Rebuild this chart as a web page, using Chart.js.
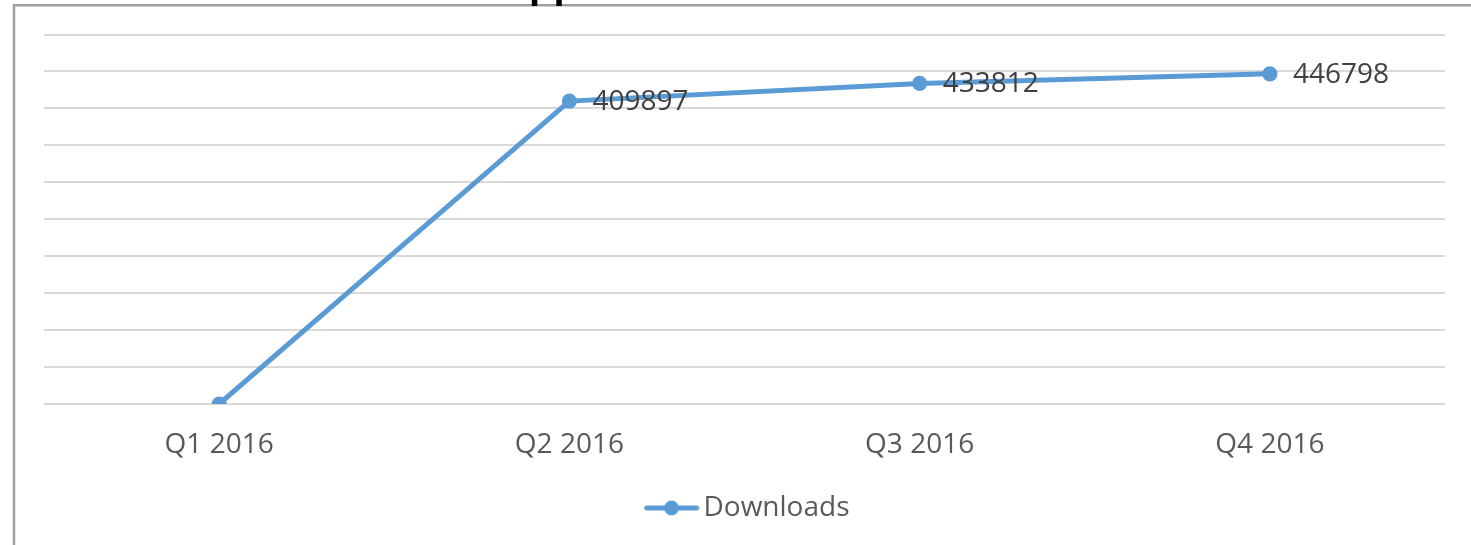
<!DOCTYPE html>
<html>
<head>
<meta charset="utf-8">
<script src="https://cdn.jsdelivr.net/npm/chart.js@4.4.1/dist/chart.umd.min.js"></script>
<style>
  html, body { margin: 0; padding: 0; background: #ffffff; overflow: hidden; }
  #wrap { position: absolute; left: 0; top: 0; width: 1471px; height: 545px; }
</style>
</head>
<body>
<div id="wrap"><canvas id="c" width="1471" height="545"></canvas></div>
<script>
// ---- data ----
const categories = ['Q1 2016', 'Q2 2016', 'Q3 2016', 'Q4 2016'];
const downloads = [0, 409897, 433812, 446798];
const seriesName = 'Downloads';
const chartTitle = 'App Downloads';
const yMin = 0;
const yMax = 500000;
const yStep = 50000;

const LINE_COLOR = '#5b9bd5';
const FONT = "'Open Sans', 'Noto Sans', sans-serif";

// legend symbol: line with a circle marker
function legendSymbol() {
  const cv = document.createElement('canvas');
  cv.width = 56; cv.height = 16;
  const g = cv.getContext('2d');
  g.strokeStyle = LINE_COLOR;
  g.lineWidth = 5;
  g.lineCap = 'round';
  g.beginPath();
  g.moveTo(3, 8); g.lineTo(53, 8);
  g.stroke();
  g.fillStyle = LINE_COLOR;
  g.beginPath();
  g.arc(28, 8, 7.4, 0, Math.PI * 2);
  g.fill();
  return cv;
}
const symbol = legendSymbol();

const framePlugin = {
  id: 'frame',
  beforeDraw(chart) {
    const ctx = chart.ctx;
    ctx.save();
    ctx.fillStyle = '#ffffff';
    ctx.fillRect(0, 0, chart.width, chart.height);
    ctx.strokeStyle = '#a0a0a0';
    ctx.lineWidth = 2.5;
    ctx.beginPath();
    ctx.moveTo(14, chart.height + 5);
    ctx.lineTo(14, 5.3);
    ctx.lineTo(chart.width + 5, 5.3);
    ctx.stroke();
    ctx.restore();
  },
  afterDraw(chart) {
    // chart title (mostly cropped off above the picture)
    const ctx = chart.ctx;
    ctx.save();
    ctx.font = "bold 40px 'Liberation Sans', sans-serif";
    ctx.fillStyle = '#000000';
    ctx.textAlign = 'left';
    ctx.textBaseline = 'alphabetic';
    const aw = ctx.measureText('A').width;
    ctx.fillText(chartTitle, 529 - aw, -2);
    ctx.restore();
  }
};

const labelPlugin = {
  id: 'pointLabels',
  afterDatasetsDraw(chart) {
    const ctx = chart.ctx;
    const meta = chart.getDatasetMeta(0);
    ctx.save();
    ctx.font = "28px " + FONT;
    ctx.fillStyle = '#404040';
    ctx.textAlign = 'left';
    ctx.textBaseline = 'middle';
    meta.data.forEach((pt, i) => {
      const v = downloads[i];
      if (!v) return;
      ctx.fillText(String(v), pt.x + 23, pt.y + 1);
    });
    ctx.restore();
  }
};

new Chart(document.getElementById('c'), {
  type: 'line',
  data: {
    labels: categories,
    datasets: [{
      label: seriesName,
      data: downloads,
      borderColor: LINE_COLOR,
      backgroundColor: LINE_COLOR,
      borderWidth: 5,
      pointRadius: 7.6,
      pointBorderWidth: 0,
      pointBackgroundColor: LINE_COLOR,
      pointStyle: 'circle',
      tension: 0,
      fill: false
    }]
  },
  options: {
    responsive: false,
    animation: false,
    devicePixelRatio: 1,
    layout: { padding: { left: 44, right: 12, top: 34.5, bottom: 13 } },
    plugins: {
      title: { display: false },
      tooltip: { enabled: false },
      legend: {
        display: true,
        position: 'bottom',
        labels: {
          usePointStyle: true,
          pointStyle: symbol,
          pointStyleWidth: 36,
          color: '#595959',
          font: { family: FONT, size: 28, lineHeight: 1.2 },
          padding: 10,
          generateLabels(chart) {
            return [{
              text: seriesName,
              pointStyle: symbol,
              fillStyle: LINE_COLOR,
              strokeStyle: LINE_COLOR,
              lineWidth: 0,
              fontColor: '#595959',
              datasetIndex: 0,
              hidden: false
            }];
          }
        }
      }
    },
    scales: {
      x: {
        offset: true,
        grid: { display: false, drawTicks: false },
        border: { display: false },
        ticks: {
          color: '#595959',
          font: { family: FONT, size: 28, lineHeight: 1.2 },
          padding: 24,
          maxRotation: 0
        },
        afterFit(s) { s.height = 80; }
      },
      y: {
        position: 'right',
        min: yMin,
        max: yMax,
        ticks: { display: false, stepSize: yStep },
        grid: { color: '#d9d9d9', lineWidth: 2, drawTicks: false },
        border: { display: false },
        afterFit(s) { s.width = 14; }
      }
    }
  },
  plugins: [framePlugin, labelPlugin]
});
</script>
</body>
</html>
